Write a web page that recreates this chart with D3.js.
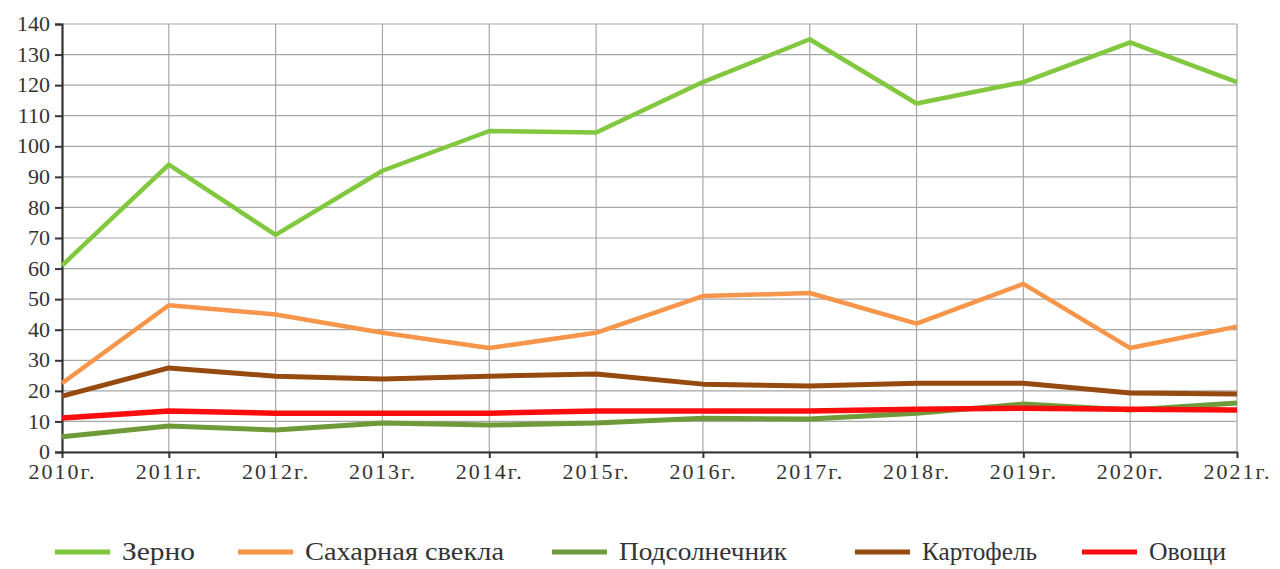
<!DOCTYPE html>
<html lang="ru">
<head>
<meta charset="UTF-8">
<title>Производство</title>
<style>
  body { margin: 0; background: #fff; }
  svg { display: block; }
</style>
</head>
<body>
<svg id="chart" width="1280" height="569"></svg>
<script src="https://d3js.org/d3.v7.min.js"></script>
<script>
// данные
const years = ["2010г.", "2011г.", "2012г.", "2013г.", "2014г.", "2015г.", "2016г.", "2017г.", "2018г.", "2019г.", "2020г.", "2021г."];
const zerno     = [61, 94, 71, 92, 105, 104.5, 121, 135, 114, 121, 134, 121];
const svekla    = [22.5, 48, 45, 39, 34, 39, 51, 52, 42, 55, 34, 41];
const podsoln   = [5, 8.5, 7.2, 9.5, 8.8, 9.5, 11, 10.8, 12.7, 15.7, 13.7, 16];
const kartofel  = [18.3, 27.5, 24.8, 23.9, 24.8, 25.5, 22.2, 21.6, 22.5, 22.5, 19.3, 19];
const ovoschi   = [11.1, 13.4, 12.7, 12.7, 12.7, 13.4, 13.4, 13.4, 14, 14.3, 14, 13.7];
const yTicks = d3.range(0, 141, 10);

const series = [
  { name: "Зерно", values: zerno, color: "#82c83f", w: 4.5 },
  { name: "Сахарная свекла", values: svekla, color: "#f7964a", w: 4.5 },
  { name: "Подсолнечник", values: podsoln, color: "#6f9a3a", w: 5 },
  { name: "Картофель", values: kartofel, color: "#974a10", w: 5 },
  { name: "Овощи", values: ovoschi, color: "#fb0d0d", w: 5.5 }
];

const serif = '"Liberation Serif"';
const svg = d3.select("#chart");
const m = { left: 62, right: 1237, top: 24, bottom: 452 };

const x = d3.scalePoint().domain(years).range([m.left, m.right]);
const y = d3.scaleLinear().domain([0, 140]).range([m.bottom, m.top]);

// сетка
svg.append("g").selectAll("line").data(yTicks).join("line")
  .attr("x1", m.left).attr("x2", m.right)
  .attr("y1", d => y(d)).attr("y2", d => y(d))
  .attr("stroke", "#a6a6a6").attr("stroke-width", 1.2);
svg.append("g").selectAll("line").data(years.slice(1)).join("line")
  .attr("x1", d => x(d)).attr("x2", d => x(d))
  .attr("y1", m.top).attr("y2", m.bottom)
  .attr("stroke", "#a6a6a6").attr("stroke-width", 1.2);

// оси
const yAxis = svg.append("g")
  .attr("transform", `translate(${m.left},0)`)
  .call(d3.axisLeft(y).tickValues(yTicks).tickSize(7).tickPadding(5));
yAxis.attr("font-family", null).attr("font-size", null);
yAxis.selectAll("text").style("font-family", serif).style("font-size", "22px")
  .attr("fill", "#333").attr("dy", "0.3em");

const xAxis = svg.append("g")
  .attr("transform", `translate(0,${m.bottom})`)
  .call(d3.axisBottom(x).tickSize(6).tickPadding(5).tickSizeOuter(0));
xAxis.attr("font-family", null).attr("font-size", null);
xAxis.selectAll("text").style("font-family", serif).style("font-size", "22px")
  .style("letter-spacing", "2px")
  .attr("fill", "#333").attr("y", 27).attr("dy", 0);
svg.selectAll(".domain").attr("stroke", "#333").attr("stroke-width", 2.2);
svg.selectAll(".tick line").attr("stroke", "#333").attr("stroke-width", 2);

// линии
const line = d3.line().x((d, i) => x(years[i])).y(d => y(d));
svg.append("g").selectAll("path").data(series).join("path")
  .attr("d", d => line(d.values))
  .attr("fill", "none")
  .attr("stroke", d => d.color)
  .attr("stroke-width", d => d.w)
  .attr("stroke-linejoin", "round");

// легенда
const legendWidths = [73, 199, 168, 115, 77];
const legendGaps = [43, 48, 68, 45];
const lg = svg.append("g");
let lx = 55;
series.forEach((s, i) => {
  lg.append("line")
    .attr("x1", lx).attr("x2", lx + 55)
    .attr("y1", 552).attr("y2", 552)
    .attr("stroke", s.color).attr("stroke-width", 5);
  lg.append("text")
    .attr("x", lx + 67).attr("y", 560)
    .style("font-family", serif).style("font-size", "25px").attr("fill", "#333")
    .attr("textLength", legendWidths[i])
    .attr("lengthAdjust", "spacingAndGlyphs")
    .text(s.name);
  lx += 67 + legendWidths[i] + (legendGaps[i] || 0);
});
</script>
</body>
</html>
